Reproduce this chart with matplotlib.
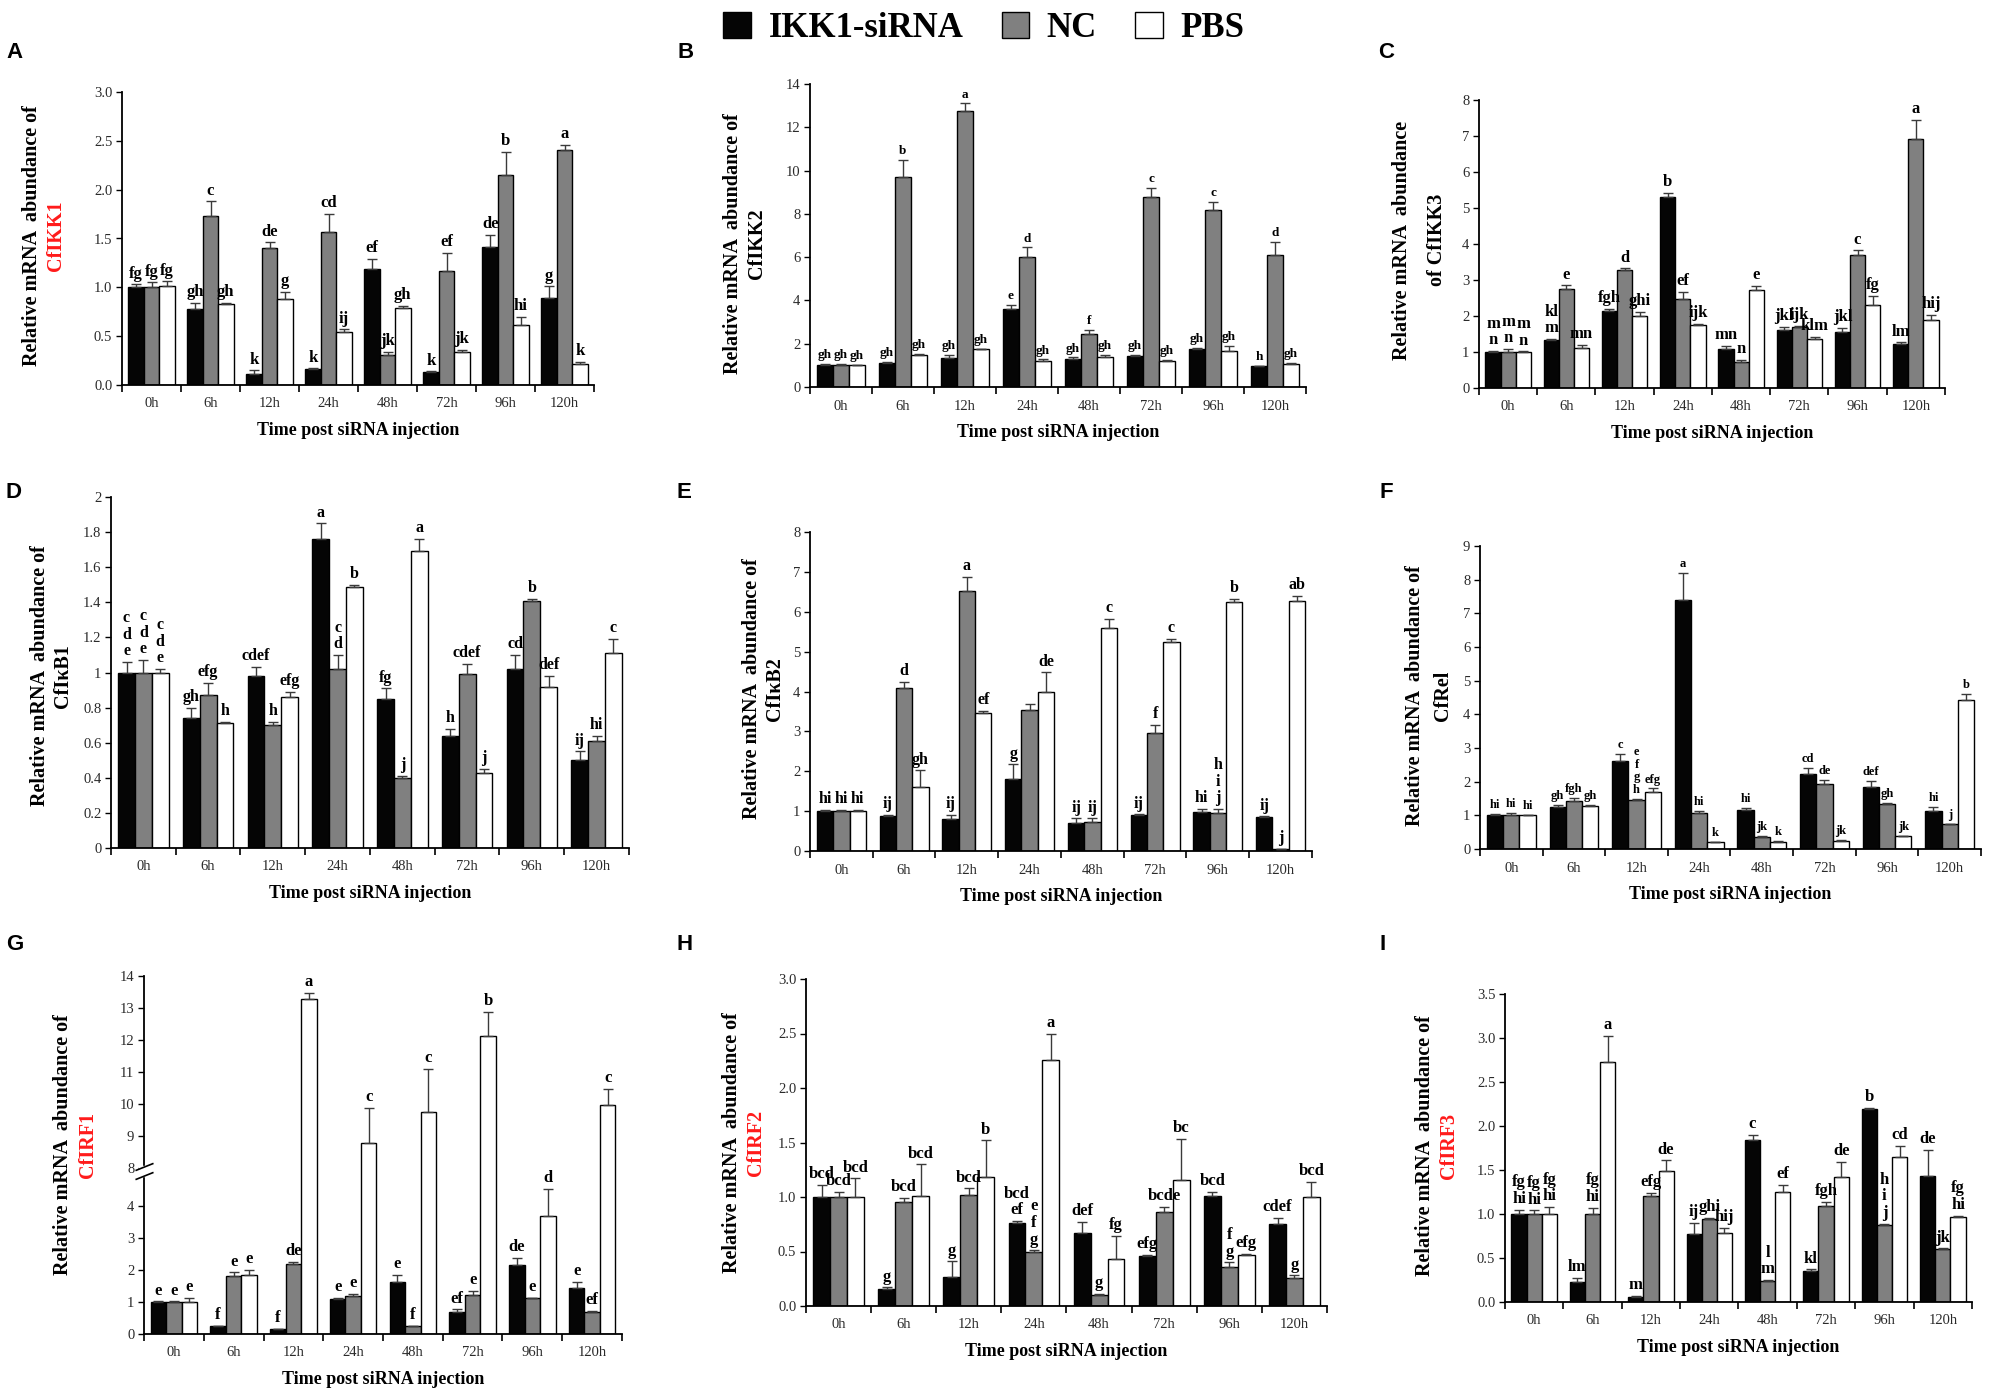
import numpy as np
import matplotlib
matplotlib.use("Agg")
import matplotlib.pyplot as plt
from matplotlib.path import Path
from matplotlib.patches import Patch

# ---------------- data ----------------
times = ["0h", "6h", "12h", "24h", "48h", "72h", "96h", "120h"]
series_names = ["IKK1-siRNA", "NC", "PBS"]

# A  CfIKK1
a_ikk = [1.00, 0.78, 0.11, 0.16, 1.19, 0.13, 1.41, 0.89]
a_ikk_err = [0.03, 0.06, 0.04, 0.01, 0.10, 0.01, 0.13, 0.12]
a_nc = [1.00, 1.73, 1.40, 1.57, 0.31, 1.17, 2.15, 2.41]
a_nc_err = [0.05, 0.15, 0.06, 0.18, 0.03, 0.18, 0.24, 0.05]
a_pbs = [1.01, 0.83, 0.88, 0.54, 0.79, 0.34, 0.61, 0.21]
a_pbs_err = [0.05, 0.01, 0.07, 0.03, 0.02, 0.02, 0.09, 0.03]
a_lab_ikk = ["fg", "gh", "k", "k", "ef", "k", "de", "g"]
a_lab_nc = ["fg", "c", "de", "cd", "jk", "ef", "b", "a"]
a_lab_pbs = ["fg", "gh", "g", "ij", "gh", "jk", "hi", "k"]

# B  CfIKK2
b_ikk = [1.00, 1.10, 1.35, 3.60, 1.30, 1.45, 1.75, 0.95]
b_ikk_err = [0.05, 0.05, 0.12, 0.18, 0.07, 0.05, 0.05, 0.03]
b_nc = [1.00, 9.70, 12.75, 6.00, 2.45, 8.80, 8.20, 6.10]
b_nc_err = [0.08, 0.80, 0.35, 0.45, 0.18, 0.40, 0.35, 0.60]
b_pbs = [1.00, 1.50, 1.75, 1.20, 1.40, 1.20, 1.65, 1.05]
b_pbs_err = [0.02, 0.03, 0.02, 0.08, 0.07, 0.05, 0.25, 0.05]
b_lab_ikk = ["gh", "gh", "gh", "e", "gh", "gh", "gh", "h"]
b_lab_nc = ["gh", "b", "a", "d", "f", "c", "c", "d"]
b_lab_pbs = ["gh", "gh", "gh", "gh", "gh", "gh", "gh", "gh"]

# C  CfIKK3
c_ikk = [1.00, 1.33, 2.15, 5.30, 1.08, 1.60, 1.55, 1.23]
c_ikk_err = [0.03, 0.03, 0.04, 0.12, 0.08, 0.10, 0.12, 0.04]
c_nc = [1.00, 2.75, 3.27, 2.48, 0.72, 1.70, 3.70, 6.93]
c_nc_err = [0.08, 0.10, 0.05, 0.20, 0.07, 0.03, 0.12, 0.52]
c_pbs = [1.00, 1.12, 2.00, 1.75, 2.72, 1.35, 2.30, 1.90]
c_pbs_err = [0.02, 0.07, 0.12, 0.04, 0.12, 0.08, 0.25, 0.13]
c_lab_ikk = ["m\nn", "kl\nm", "fgh", "b", "mn", "jkl", "jkl", "lm"]
c_lab_nc = ["m\nn", "e", "d", "ef", "n", "ijk", "c", "a"]
c_lab_pbs = ["m\nn", "mn", "ghi", "ijk", "e", "klm", "fg", "hij"]

# D  CfIkB1
d_ikk = [1.00, 0.74, 0.98, 1.76, 0.85, 0.64, 1.02, 0.50]
d_ikk_err = [0.06, 0.06, 0.05, 0.09, 0.06, 0.04, 0.08, 0.05]
d_nc = [1.00, 0.87, 0.70, 1.02, 0.40, 0.99, 1.41, 0.61]
d_nc_err = [0.07, 0.07, 0.02, 0.08, 0.01, 0.06, 0.01, 0.03]
d_pbs = [1.00, 0.71, 0.86, 1.49, 1.69, 0.43, 0.92, 1.11]
d_pbs_err = [0.02, 0.01, 0.03, 0.01, 0.07, 0.02, 0.06, 0.08]
d_lab_ikk = ["c\nd\ne", "gh", "cdef", "a", "fg", "h", "cd", "ij"]
d_lab_nc = ["c\nd\ne", "efg", "h", "c\nd", "j", "cdef", "b", "hi"]
d_lab_pbs = ["c\nd\ne", "h", "efg", "b", "a", "j", "def", "c"]

# E  CfIkB2
e_ikk = [1.00, 0.88, 0.80, 1.80, 0.70, 0.90, 0.98, 0.85]
e_ikk_err = [0.03, 0.03, 0.10, 0.37, 0.12, 0.02, 0.08, 0.02]
e_nc = [1.00, 4.08, 6.52, 3.53, 0.72, 2.95, 0.95, 0.04]
e_nc_err = [0.03, 0.17, 0.35, 0.15, 0.10, 0.22, 0.10, 0.01]
e_pbs = [1.00, 1.60, 3.45, 3.98, 5.60, 5.25, 6.25, 6.27]
e_pbs_err = [0.04, 0.42, 0.07, 0.50, 0.23, 0.07, 0.08, 0.12]
e_lab_ikk = ["hi", "ij", "ij", "g", "ij", "ij", "hi", "ij"]
e_lab_nc = ["hi", "d", "a", "", "ij", "f", "h\ni\nj", "j"]
e_lab_pbs = ["hi", "gh", "ef", "de", "c", "c", "b", "ab"]

# F  CfRel
f_ikk = [1.00, 1.25, 2.60, 7.40, 1.15, 2.23, 1.85, 1.12]
f_ikk_err = [0.05, 0.07, 0.22, 0.80, 0.08, 0.18, 0.17, 0.13]
f_nc = [1.00, 1.42, 1.45, 1.08, 0.37, 1.93, 1.33, 0.73]
f_nc_err = [0.07, 0.10, 0.05, 0.05, 0.02, 0.13, 0.04, 0.02]
f_pbs = [1.00, 1.27, 1.70, 0.20, 0.22, 0.25, 0.38, 4.42]
f_pbs_err = [0.02, 0.03, 0.10, 0.01, 0.01, 0.01, 0.02, 0.18]
f_lab_ikk = ["hi", "gh", "c", "a", "hi", "cd", "def", "hi"]
f_lab_nc = ["hi", "fgh", "e\nf\ng\nh", "hi", "jk", "de", "gh", "j"]
f_lab_pbs = ["hi", "gh", "efg", "k", "k", "jk", "jk", "b"]

# G  CfIRF1
g_ikk = [1.00, 0.25, 0.15, 1.10, 1.63, 0.70, 2.15, 1.45]
g_ikk_err = [0.02, 0.01, 0.01, 0.04, 0.22, 0.07, 0.23, 0.17]
g_nc = [1.00, 1.83, 2.20, 1.20, 0.25, 1.23, 1.13, 0.70]
g_nc_err = [0.02, 0.10, 0.06, 0.06, 0.01, 0.12, 0.01, 0.02]
g_pbs = [1.00, 1.85, 13.28, 8.77, 9.73, 12.12, 3.70, 9.95]
g_pbs_err = [0.12, 0.15, 0.18, 1.10, 1.37, 0.75, 0.83, 0.52]
g_lab_ikk = ["e", "f", "f", "e", "e", "ef", "de", "e"]
g_lab_nc = ["e", "e", "de", "e", "f", "e", "e", "ef"]
g_lab_pbs = ["e", "e", "a", "c", "c", "b", "d", "c"]

# H  CfIRF2
h_ikk = [1.00, 0.16, 0.27, 0.76, 0.67, 0.46, 1.01, 0.75]
h_ikk_err = [0.11, 0.01, 0.14, 0.02, 0.10, 0.01, 0.04, 0.06]
h_nc = [1.00, 0.95, 1.02, 0.50, 0.10, 0.86, 0.36, 0.26]
h_nc_err = [0.05, 0.04, 0.06, 0.01, 0.01, 0.05, 0.04, 0.02]
h_pbs = [1.00, 1.01, 1.18, 2.26, 0.43, 1.16, 0.47, 1.00]
h_pbs_err = [0.17, 0.29, 0.34, 0.24, 0.21, 0.37, 0.01, 0.14]
h_lab_ikk = ["bcd", "g", "g", "bcd\nef", "def", "efg", "bcd", "cdef"]
h_lab_nc = ["bcd", "bcd", "bcd", "e\nf\ng", "g", "bcde", "f\ng", "g"]
h_lab_pbs = ["bcd", "bcd", "b", "a", "fg", "bc", "efg", "bcd"]

# I  CfIRF3
i_ikk = [1.00, 0.23, 0.06, 0.77, 1.84, 0.35, 2.19, 1.43]
i_ikk_err = [0.05, 0.04, 0.01, 0.13, 0.06, 0.02, 0.02, 0.30]
i_nc = [1.00, 1.00, 1.21, 0.94, 0.24, 1.09, 0.88, 0.60]
i_nc_err = [0.04, 0.07, 0.03, 0.02, 0.01, 0.05, 0.01, 0.01]
i_pbs = [1.00, 2.73, 1.49, 0.78, 1.25, 1.42, 1.65, 0.97]
i_pbs_err = [0.08, 0.29, 0.12, 0.06, 0.08, 0.17, 0.12, 0.01]
i_lab_ikk = ["fg\nhi", "lm", "m", "ij", "c", "kl", "b", "de"]
i_lab_nc = ["fg\nhi", "fg\nhi", "efg", "ghi", "l\nm", "fgh", "h\ni\nj", "jk"]
i_lab_pbs = ["fg\nhi", "a", "de", "hij", "ef", "de", "cd", "fg\nhi"]

# y tick values / labels
a_ticks = [0.0, 0.5, 1.0, 1.5, 2.0, 2.5, 3.0]
a_ticklabels = ["0.0", "0.5", "1.0", "1.5", "2.0", "2.5", "3.0"]
b_ticks = [0, 2, 4, 6, 8, 10, 12, 14]
b_ticklabels = ["0", "2", "4", "6", "8", "10", "12", "14"]
c_ticks = [0, 1, 2, 3, 4, 5, 6, 7, 8]
c_ticklabels = ["0", "1", "2", "3", "4", "5", "6", "7", "8"]
d_ticks = [0, 0.2, 0.4, 0.6, 0.8, 1.0, 1.2, 1.4, 1.6, 1.8, 2.0]
d_ticklabels = ["0", "0.2", "0.4", "0.6", "0.8", "1", "1.2", "1.4", "1.6", "1.8", "2"]
e_ticks = [0, 1, 2, 3, 4, 5, 6, 7, 8]
e_ticklabels = ["0", "1", "2", "3", "4", "5", "6", "7", "8"]
f_ticks = [0, 1, 2, 3, 4, 5, 6, 7, 8, 9]
f_ticklabels = ["0", "1", "2", "3", "4", "5", "6", "7", "8", "9"]
g_ticks = [0, 1, 2, 3, 4, 8, 9, 10, 11, 12, 13, 14]
g_ticklabels = ["0", "1", "2", "3", "4", "8", "9", "10", "11", "12", "13", "14"]
h_ticks = [0.0, 0.5, 1.0, 1.5, 2.0, 2.5, 3.0]
h_ticklabels = ["0.0", "0.5", "1.0", "1.5", "2.0", "2.5", "3.0"]
i_ticks = [0.0, 0.5, 1.0, 1.5, 2.0, 2.5, 3.0, 3.5]
i_ticklabels = ["0.0", "0.5", "1.0", "1.5", "2.0", "2.5", "3.0", "3.5"]

# ---------------- style / layout ----------------
W, H = 2008, 1388
fig = plt.figure(figsize=(W / 100, H / 100), dpi=100)
SERIF = "Liberation Serif"
SANS = "Liberation Sans"
bar_colors = ["#050505", "#808080", "#ffffff"]
BW = 0.26

panels = [
    dict(letter="A", l1="Relative mRNA  abundance of", l2="CfIKK1", red=True,
         box=(122, 92, 594, 385), ticks=a_ticks, tl=a_ticklabels, ylim=(0, 3.0),
         vals=(a_ikk, a_nc, a_pbs), errs=(a_ikk_err, a_nc_err, a_pbs_err),
         labs=(a_lab_ikk, a_lab_nc, a_lab_pbs), lfs=12, yl=(32, 56, 236), let=(6, 52)),
    dict(letter="B", l1="Relative mRNA  abundance of", l2="CfIKK2", red=False,
         box=(810, 84, 1306, 387), ticks=b_ticks, tl=b_ticklabels, ylim=(0, 14),
         vals=(b_ikk, b_nc, b_pbs), errs=(b_ikk_err, b_nc_err, b_pbs_err),
         labs=(b_lab_ikk, b_lab_nc, b_lab_pbs), lfs=9.5, yl=(733, 757, 244), let=(678, 52)),
    dict(letter="C", l1="Relative mRNA  abundance", l2="of CfIKK3", red=False,
         box=(1479, 100, 1945, 388), ticks=c_ticks, tl=c_ticklabels, ylim=(0, 8),
         vals=(c_ikk, c_nc, c_pbs), errs=(c_ikk_err, c_nc_err, c_pbs_err),
         labs=(c_lab_ikk, c_lab_nc, c_lab_pbs), lfs=12, yl=(1402, 1437, 240), let=(1378, 52)),
    dict(letter="D", l1="Relative mRNA  abundance of", l2="CfIκB1", red=False,
         box=(111, 497, 629, 848), ticks=d_ticks, tl=d_ticklabels, ylim=(0, 2.0),
         vals=(d_ikk, d_nc, d_pbs), errs=(d_ikk_err, d_nc_err, d_pbs_err),
         labs=(d_lab_ikk, d_lab_nc, d_lab_pbs), lfs=11.5, yl=(40, 63, 676), let=(6, 492)),
    dict(letter="E", l1="Relative mRNA  abundance of", l2="CfIκB2", red=False,
         box=(810, 532, 1312, 851), ticks=e_ticks, tl=e_ticklabels, ylim=(0, 8),
         vals=(e_ikk, e_nc, e_pbs), errs=(e_ikk_err, e_nc_err, e_pbs_err),
         labs=(e_lab_ikk, e_lab_nc, e_lab_pbs), lfs=11.5, yl=(752, 775, 689), let=(677, 492)),
    dict(letter="F", l1="Relative mRNA  abundance of", l2="CfRel", red=False,
         box=(1480, 546, 1981, 849), ticks=f_ticks, tl=f_ticklabels, ylim=(0, 9),
         vals=(f_ikk, f_nc, f_pbs), errs=(f_ikk_err, f_nc_err, f_pbs_err),
         labs=(f_lab_ikk, f_lab_nc, f_lab_pbs), lfs=9, yl=(1415, 1443, 696), let=(1380, 492)),
    dict(letter="G", l1="Relative mRNA  abundance of", l2="CfIRF1", red=True,
         box=(144, 976, 622, 1334), ticks=g_ticks, tl=g_ticklabels, ylim=(0, 14),
         vals=(g_ikk, g_nc, g_pbs), errs=(g_ikk_err, g_nc_err, g_pbs_err),
         labs=(g_lab_ikk, g_lab_nc, g_lab_pbs), lfs=12, yl=(63, 88, 1145), let=(6, 945)),
    dict(letter="H", l1="Relative mRNA  abundance of", l2="CfIRF2", red=True,
         box=(806, 979, 1327, 1306), ticks=h_ticks, tl=h_ticklabels, ylim=(0, 3.0),
         vals=(h_ikk, h_nc, h_pbs), errs=(h_ikk_err, h_nc_err, h_pbs_err),
         labs=(h_lab_ikk, h_lab_nc, h_lab_pbs), lfs=12, yl=(732, 756, 1143), let=(677, 945)),
    dict(letter="I", l1="Relative mRNA  abundance of", l2="CfIRF3", red=True,
         box=(1505, 994, 1972, 1302), ticks=i_ticks, tl=i_ticklabels, ylim=(0, 3.5),
         vals=(i_ikk, i_nc, i_pbs), errs=(i_ikk_err, i_nc_err, i_pbs_err),
         labs=(i_lab_ikk, i_lab_nc, i_lab_pbs), lfs=12, yl=(1425, 1449, 1146), let=(1380, 945)),
]


# broken-axis scale for panel G (values 5..8 compressed)
def brk_fwd(v):
    v = np.asarray(v, dtype=float)
    return np.where(v <= 5, v, np.where(v >= 8, v - 2.8, 5 + (v - 5) * 0.2 / 3))


def brk_inv(u):
    u = np.asarray(u, dtype=float)
    return np.where(u <= 5, u, np.where(u >= 5.2, u + 2.8, 5 + (u - 5) * 15))


x = np.arange(len(times))
for p in panels:
    l, t, r, b = p["box"]
    ax = fig.add_axes([l / W, 1 - b / H, (r - l) / W, (b - t) / H])
    if p["letter"] == "G":
        ax.set_yscale("function", functions=(brk_fwd, brk_inv))
    for k in range(3):
        xs = x + (k - 1) * BW
        vals = np.array(p["vals"][k])
        errs = np.array(p["errs"][k])
        ax.bar(xs, vals, BW, color=bar_colors[k], edgecolor="black", linewidth=1.0, zorder=2)
        ax.errorbar(xs, vals, yerr=[np.zeros_like(errs), errs], fmt="none", ecolor="#3a3a3a",
                    elinewidth=1.0, capsize=3.5, capthick=1.0, zorder=3)
        for i in range(len(times)):
            lab = p["labs"][k][i]
            if lab:
                ax.annotate(lab, (xs[i], vals[i] + errs[i]), xytext=(0, 2),
                            textcoords="offset points", ha="center", va="bottom",
                            fontsize=p["lfs"], fontweight="bold", family=SERIF,
                            linespacing=1.05, zorder=4)
    ax.set_xlim(-0.5, len(times) - 0.5)
    ax.set_ylim(*p["ylim"])
    ax.set_yticks(p["ticks"])
    ax.set_yticklabels(p["tl"])
    ax.set_xticks(np.arange(-0.5, len(times), 1.0))
    ax.set_xticklabels([])
    ax.set_xticks(x, minor=True)
    ax.set_xticklabels(times, minor=True)
    ax.tick_params(axis="x", which="major", direction="out", length=5, width=1.2)
    ax.tick_params(axis="x", which="minor", length=0, pad=9)
    ax.tick_params(axis="y", direction="out", length=4, width=1.0, pad=3)
    for lab in ax.get_xticklabels(minor=True) + ax.get_yticklabels():
        lab.set_fontfamily(SERIF)
        lab.set_fontsize(10.5)
        lab.set_color("#2a2a2a")
    ax.spines["top"].set_visible(False)
    ax.spines["right"].set_visible(False)
    ax.spines["left"].set_linewidth(1.3)
    ax.spines["bottom"].set_linewidth(1.3)
    ax.set_xlabel("Time post siRNA injection", fontsize=13, fontweight="bold",
                  family=SERIF, labelpad=8)
    if p["letter"] == "G":
        brk = Path([(-1, -0.9), (1, -0.1), (-1, 0.1), (1, 0.9)],
                   [Path.MOVETO, Path.LINETO, Path.MOVETO, Path.LINETO])
        ax.plot([0], [6.5], transform=ax.get_yaxis_transform(), marker="s", ms=7,
                mfc="white", mec="white", clip_on=False, zorder=5)
        ax.plot([0], [6.5], transform=ax.get_yaxis_transform(), marker=brk, ms=13,
                mec="black", mew=1.2, mfc="none", clip_on=False, zorder=6)

    x1, x2, yc = p["yl"]
    fig.text(x1 / W, 1 - yc / H, p["l1"], rotation=90, ha="center", va="center",
             fontsize=14.5, fontweight="bold", family=SERIF)
    fig.text(x2 / W, 1 - yc / H, p["l2"], rotation=90, ha="center", va="center",
             fontsize=14.5, fontweight="bold", family=SERIF,
             color="#ff1a1a" if p["red"] else "black")
    lx, ly = p["let"]
    fig.text(lx / W, 1 - ly / H, p["letter"], ha="left", va="center", fontsize=16,
             fontweight="bold", family=SANS)

handles = [Patch(facecolor=c, edgecolor="black", linewidth=1.0) for c in bar_colors]
fig.legend(handles, series_names, loc="upper center", bbox_to_anchor=(0.49, 1.004), ncol=3,
           frameon=False, prop=dict(family=SERIF, weight="bold", size=25),
           handlelength=0.8, handleheight=0.8, columnspacing=1.1, handletextpad=0.5,
           borderaxespad=0.1)

fig.savefig("out.png", dpi=100)
